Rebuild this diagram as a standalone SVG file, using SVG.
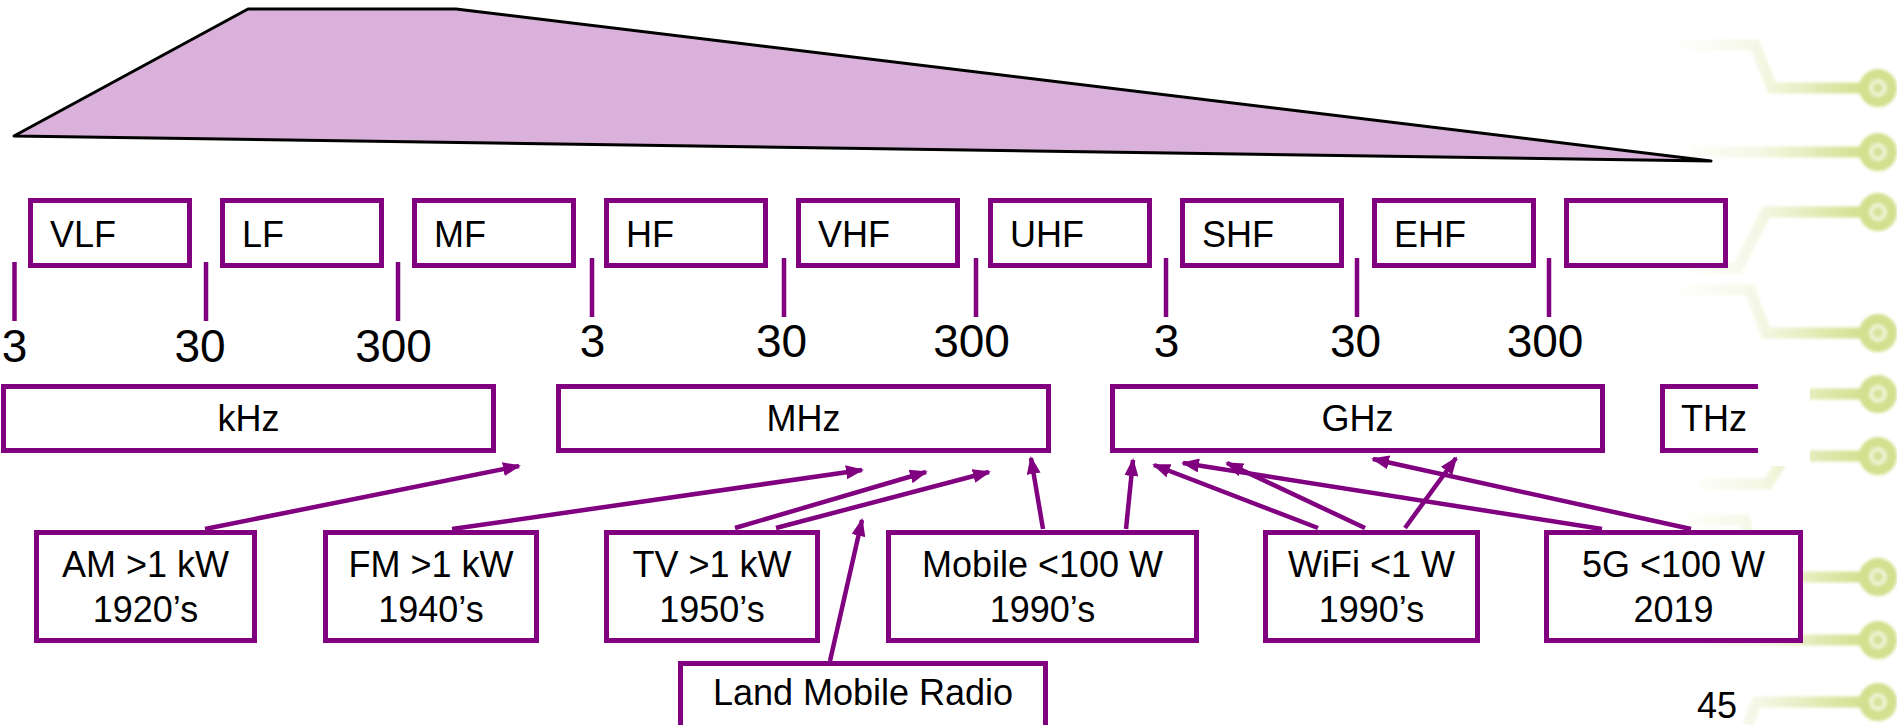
<svg xmlns="http://www.w3.org/2000/svg" width="1897" height="725" viewBox="0 0 1897 725">
  <style>
    text { font-family: "Liberation Sans", Arial, sans-serif; fill: #000; }
    .box { fill: #fff; stroke: #800080; stroke-width: 5; }
    .tick { stroke: #800080; stroke-width: 4.5; }
    .band { font-size: 36px; }
    .num { font-size: 46px; text-anchor: middle; }
    .unit { font-size: 36px; text-anchor: middle; }
    .lbl { font-size: 36px; text-anchor: middle; }
    .conn { stroke: #800080; stroke-width: 4.5; fill: none; marker-end: url(#head); }
    .trace { fill: none; stroke: url(#traceFade); stroke-width: 11; }
    .pad { fill: #eef4d4; stroke: #d3e08f; stroke-width: 10; }
    .padc { fill: #d6e29c; }
  </style>
  <defs>
    <marker id="head" viewBox="0 0 18 14" refX="16" refY="7" markerWidth="18" markerHeight="14" markerUnits="userSpaceOnUse" orient="auto">
      <path d="M0,0 L18,7 L0,14 z" fill="#800080"/>
    </marker>
    <linearGradient id="traceFade" gradientUnits="userSpaceOnUse" x1="1670" y1="0" x2="1865" y2="0">
      <stop offset="0" stop-color="#dce6aa" stop-opacity="0"/>
      <stop offset="0.45" stop-color="#dce6aa" stop-opacity="0.3"/>
      <stop offset="0.8" stop-color="#d6e296" stop-opacity="0.8"/>
      <stop offset="1" stop-color="#d2df8c" stop-opacity="1"/>
    </linearGradient>
    <filter id="soft" x="-10%" y="-10%" width="120%" height="120%">
      <feGaussianBlur stdDeviation="1.6"/>
    </filter>
  </defs>

  <rect x="0" y="0" width="1897" height="725" fill="#fff"/>

  <!-- circuit-board decoration along the right edge -->
  <g id="circuit" filter="url(#soft)">
    <path class="trace" d="M1865,88 H1772 L1755,45 H1680"/>
    <path class="trace" d="M1865,152 H1690"/>
    <path class="trace" d="M1865,212 H1766 L1738,268 H1680"/>
    <path class="trace" d="M1865,333 H1766 L1750,290 H1680"/>
    <path class="trace" d="M1865,394 H1800"/>
    <path class="trace" d="M1865,456 H1785 L1768,484 H1700"/>
    <path class="trace" d="M1865,577 H1757 L1745,520 H1690"/>
    <path class="trace" d="M1865,640 H1712"/>
    <path class="trace" d="M1865,702 H1757 L1747,725"/>
    <g>
      <circle class="pad" cx="1878" cy="88" r="14"/><circle class="padc" cx="1878" cy="88" r="5"/>
      <circle class="pad" cx="1878" cy="152" r="14"/><circle class="padc" cx="1878" cy="152" r="5"/>
      <circle class="pad" cx="1878" cy="212" r="14"/><circle class="padc" cx="1878" cy="212" r="5"/>
      <circle class="pad" cx="1878" cy="333" r="14"/><circle class="padc" cx="1878" cy="333" r="5"/>
      <circle class="pad" cx="1878" cy="394" r="14"/><circle class="padc" cx="1878" cy="394" r="5"/>
      <circle class="pad" cx="1878" cy="456" r="14"/><circle class="padc" cx="1878" cy="456" r="5"/>
      <circle class="pad" cx="1878" cy="577" r="14"/><circle class="padc" cx="1878" cy="577" r="5"/>
      <circle class="pad" cx="1878" cy="640" r="14"/><circle class="padc" cx="1878" cy="640" r="5"/>
      <circle class="pad" cx="1878" cy="702" r="14"/><circle class="padc" cx="1878" cy="702" r="5"/>
    </g>
  </g>

  <!-- transmit power envelope -->
  <polygon id="envelope" points="14,136 248,9 456,9 1711,161" fill="#d9b1da" stroke="#000" stroke-width="3" stroke-linejoin="round"/>

  <!-- band names -->
  <g id="band-VLF"><rect class="box" x="30.5" y="200.5" width="159" height="65"/><text class="band" x="50" y="247">VLF</text></g>
  <g id="band-LF"><rect class="box" x="222.5" y="200.5" width="159" height="65"/><text class="band" x="242" y="247">LF</text></g>
  <g id="band-MF"><rect class="box" x="414.5" y="200.5" width="159" height="65"/><text class="band" x="434" y="247">MF</text></g>
  <g id="band-HF"><rect class="box" x="606.5" y="200.5" width="159" height="65"/><text class="band" x="626" y="247">HF</text></g>
  <g id="band-VHF"><rect class="box" x="798.5" y="200.5" width="159" height="65"/><text class="band" x="818" y="247">VHF</text></g>
  <g id="band-UHF"><rect class="box" x="990.5" y="200.5" width="159" height="65"/><text class="band" x="1010" y="247">UHF</text></g>
  <g id="band-SHF"><rect class="box" x="1182.5" y="200.5" width="159" height="65"/><text class="band" x="1202" y="247">SHF</text></g>
  <g id="band-EHF"><rect class="box" x="1374.5" y="200.5" width="159" height="65"/><text class="band" x="1394" y="247">EHF</text></g>
  <g id="band-blank"><rect class="box" x="1566.5" y="200.5" width="159" height="65"/></g>

  <!-- decade ticks and values -->
  <g id="scale">
    <line class="tick" x1="14.5" y1="262" x2="14.5" y2="321"/>
    <line class="tick" x1="206" y1="262" x2="206" y2="321"/>
    <line class="tick" x1="398" y1="262" x2="398" y2="321"/>
    <line class="tick" x1="592" y1="258" x2="592" y2="317"/>
    <line class="tick" x1="784" y1="258" x2="784" y2="317"/>
    <line class="tick" x1="976" y1="258" x2="976" y2="317"/>
    <line class="tick" x1="1166" y1="258" x2="1166" y2="317"/>
    <line class="tick" x1="1357" y1="258" x2="1357" y2="317"/>
    <line class="tick" x1="1549" y1="258" x2="1549" y2="317"/>
    <text class="num" x="14.5" y="362">3</text>
    <text class="num" x="200" y="362">30</text>
    <text class="num" x="393.5" y="362">300</text>
    <text class="num" x="592.5" y="357">3</text>
    <text class="num" x="781.5" y="357">30</text>
    <text class="num" x="971.5" y="357">300</text>
    <text class="num" x="1166.5" y="357">3</text>
    <text class="num" x="1355.5" y="357">30</text>
    <text class="num" x="1545" y="357">300</text>
  </g>

  <!-- frequency units -->
  <g id="unit-kHz"><rect class="box" x="3.5" y="386.5" width="490" height="64"/><text class="unit" x="248.5" y="431">kHz</text></g>
  <g id="unit-MHz"><rect class="box" x="558.5" y="386.5" width="490" height="64"/><text class="unit" x="803.5" y="431">MHz</text></g>
  <g id="unit-GHz"><rect class="box" x="1112.5" y="386.5" width="490" height="64"/><text class="unit" x="1357.5" y="431">GHz</text></g>
  <g id="unit-THz">
    <rect class="box" x="1662.5" y="386.5" width="140" height="64"/>
    <text x="1681" y="431" font-size="36">THz</text>
    <rect x="1758" y="380" width="52" height="86" fill="#fff"/>
  </g>

  <!-- connectors -->
  <g id="connectors">
    <line class="conn" x1="205" y1="529" x2="519" y2="466"/>
    <line class="conn" x1="452" y1="529" x2="862" y2="470"/>
    <line class="conn" x1="735" y1="528" x2="926" y2="472"/>
    <line class="conn" x1="776" y1="528" x2="989" y2="472"/>
    <line class="conn" x1="830" y1="661" x2="862" y2="520"/>
    <line class="conn" x1="1043" y1="529" x2="1031" y2="458"/>
    <line class="conn" x1="1126" y1="529" x2="1133" y2="460"/>
    <line class="conn" x1="1318" y1="528" x2="1154" y2="465"/>
    <line class="conn" x1="1365" y1="528" x2="1227" y2="463"/>
    <line class="conn" x1="1405" y1="528" x2="1456" y2="458"/>
    <line class="conn" x1="1602" y1="529" x2="1183" y2="463"/>
    <line class="conn" x1="1691" y1="529" x2="1373" y2="459"/>
  </g>

  <!-- services -->
  <g id="svc-AM"><rect class="box" x="36.5" y="532.5" width="218" height="108"/><text class="lbl" x="145.5" y="577">AM &gt;1 kW</text><text class="lbl" x="145.5" y="622">1920’s</text></g>
  <g id="svc-FM"><rect class="box" x="325.5" y="532.5" width="211" height="108"/><text class="lbl" x="431" y="577">FM &gt;1 kW</text><text class="lbl" x="431" y="622">1940’s</text></g>
  <g id="svc-TV"><rect class="box" x="606.5" y="532.5" width="211" height="108"/><text class="lbl" x="712" y="577">TV &gt;1 kW</text><text class="lbl" x="712" y="622">1950’s</text></g>
  <g id="svc-Mobile"><rect class="box" x="888.5" y="532.5" width="308" height="108"/><text class="lbl" x="1042.5" y="577">Mobile &lt;100 W</text><text class="lbl" x="1042.5" y="622">1990’s</text></g>
  <g id="svc-WiFi"><rect class="box" x="1265.5" y="532.5" width="212" height="108"/><text class="lbl" x="1371.5" y="577">WiFi &lt;1 W</text><text class="lbl" x="1371.5" y="622">1990’s</text></g>
  <g id="svc-5G"><rect class="box" x="1546.5" y="532.5" width="254" height="108"/><text class="lbl" x="1673.5" y="577">5G &lt;100 W</text><text class="lbl" x="1673.5" y="622">2019</text></g>
  <g id="svc-LMR"><rect class="box" x="680.5" y="663.5" width="365" height="100"/><text class="lbl" x="863" y="705">Land Mobile Radio</text></g>

  <text id="page-number" x="1697" y="718" font-size="36">45</text>
</svg>
